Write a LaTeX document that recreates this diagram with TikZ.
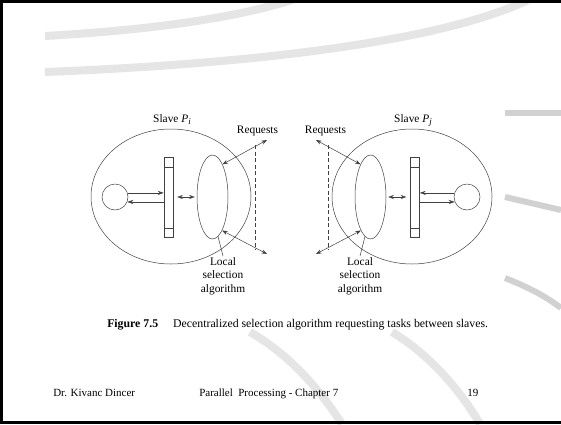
\documentclass[tikz,border=0pt]{standalone}
\usepackage{fontspec}
\setmainfont{Liberation Serif}
\usetikzlibrary{arrows.meta,shapes.geometric,calc}
\newcommand{\Pidx}[1]{\textit{P}\raisebox{-0.45ex}{\small\textit{#1}}}
\begin{document}
\begin{tikzpicture}[x=1pt,y=-1pt,
  line width=0.5pt,
  ln/.style={draw=black!75},
  tip/.style={-{Stealth[length=6pt,width=4pt]}},
  dtip/.style={{Stealth[length=5.5pt,width=4pt]}-{Stealth[length=5.5pt,width=4pt]}},
  big/.style={ellipse,draw=black!75,minimum width=160pt,minimum height=135pt,inner sep=0pt},
  inner/.style={ellipse,draw=black!75,minimum width=31pt,minimum height=84pt,inner sep=0pt},
  proc/.style={circle,draw=black!75,minimum size=26pt,inner sep=0pt},
  bar/.style={rectangle,draw=black!75,minimum width=9pt,minimum height=80pt,inner sep=0pt},
  lbl/.style={font=\fontsize{11.4}{13.5}\selectfont,inner sep=1pt},
  swoosh/.style={draw=black!10,line width=8pt,line cap=butt},
  strip/.style={draw=black!18,line width=6pt}
]
\useasboundingbox (0,0) rectangle (561,424);
\fill[white] (0,0) rectangle (561,424);
% background decoration
\draw[swoosh] (45,36) .. controls (150,30) and (235,18) .. (292,0);
\draw[swoosh] (45,72) .. controls (250,64) and (440,42) .. (528,0);
\draw[swoosh] (250,332) .. controls (290,355) and (320,390) .. (342,424);
\draw[swoosh] (392,332) .. controls (430,355) and (460,390) .. (480,424);
\draw[strip] (505,113) -- (561,113);
\draw[strip] (505,197) -- (561,210);
\draw[strip] (505,278) .. controls (530,288) and (545,296) .. (561,308);
% frame
\draw[line width=3pt] (1.5,424) -- (1.5,1.5) -- (561,1.5);
\draw[line width=3pt] (0,422.5) -- (561,422.5);

% ---------- left slave ----------
\node[big] (bigL) at (171,196.5) {};
\node[proc] (circL) at (115,197) {};
\node[bar] (barL) at (168.5,197) {};
\draw[ln] ($(barL.north west)+(0,10)$) coordinate (bl1) -- (bl1 -| barL.east);
\draw[ln] ($(barL.south west)+(0,-9)$) coordinate (bl2) -- (bl2 -| barL.east);
\node[inner] (innerL) at (212.5,197) {};
\coordinate (dLt) at (255,145);
\coordinate (dLb) at (255,250);
\draw[ln,dashed,dash pattern=on 4pt off 2.5pt] (dLt) -- (dLb);
\coordinate (rLt) at (267,140);
\coordinate (rLb) at (267,254);
\draw[ln,dtip] (innerL.73) -- (rLt);
\draw[ln,dtip] (innerL.-74) -- (rLb);
\draw[ln,tip] (circL.18) -- (circL.18 -| barL.west);
\draw[ln,tip] (circL.-22 -| barL.west) -- (circL.-22);
\draw[ln,dtip,shorten <=4pt,shorten >=2pt] (barL.east |- innerL.west) -- (innerL.west);
\node[lbl,align=center,anchor=north] (selL) at (223,256) {Local\\selection\\algorithm};
\draw[ln] (innerL.-82) -- (selL.north);
\node[lbl,anchor=base] (slaveL) at (172,122) {Slave \Pidx{i}};
\node[lbl,anchor=base] (reqL) at (257.5,133) {Requests};

% ---------- right slave ----------
\node[big] (bigR) at (412,196.5) {};
\node[proc] (circR) at (467,197) {};
\node[bar] (barR) at (415,197) {};
\draw[ln] ($(barR.north west)+(0,10)$) coordinate (br1) -- (br1 -| barR.east);
\draw[ln] ($(barR.south west)+(0,-9)$) coordinate (br2) -- (br2 -| barR.east);
\node[inner] (innerR) at (370.5,197) {};
\coordinate (dRt) at (328,145);
\coordinate (dRb) at (328,250);
\draw[ln,dashed,dash pattern=on 4pt off 2.5pt] (dRt) -- (dRb);
\coordinate (rRt) at (316,140);
\coordinate (rRb) at (316,254);
\draw[ln,dtip] (innerR.107) -- (rRt);
\draw[ln,dtip] (innerR.-106) -- (rRb);
\draw[ln,tip] (circR.162) -- (circR.162 -| barR.east);
\draw[ln,tip] (circR.-158 -| barR.east) -- (circR.-158);
\draw[ln,dtip,shorten <=4pt,shorten >=2pt] (barR.west |- innerR.east) -- (innerR.east);
\node[lbl,align=center,anchor=north] (selR) at (360,256) {Local\\selection\\algorithm};
\draw[ln] (innerR.-98) -- (selR.north);
\node[lbl,anchor=base] (slaveR) at (413,122) {Slave \Pidx{j}};
\node[lbl,anchor=base] (reqR) at (325.5,133) {Requests};

% ---------- caption and footer ----------
\node[lbl,anchor=base west,font=\fontsize{11.8}{14}\selectfont] (cap) at (106,327) {\textbf{Figure 7.5}\hspace{15pt}Decentralized selection algorithm requesting tasks between slaves.};
\node[lbl,anchor=base west,font=\fontsize{11}{13}\selectfont] (f1) at (52,396) {Dr. Kivanc Dincer};
\node[lbl,anchor=base west,font=\fontsize{11}{13}\selectfont] (f2) at (198,396) {Parallel\ \ Processing - Chapter 7};
\node[lbl,anchor=base west,font=\fontsize{11}{13}\selectfont] (f3) at (466,396) {19};
\end{tikzpicture}
\end{document}
